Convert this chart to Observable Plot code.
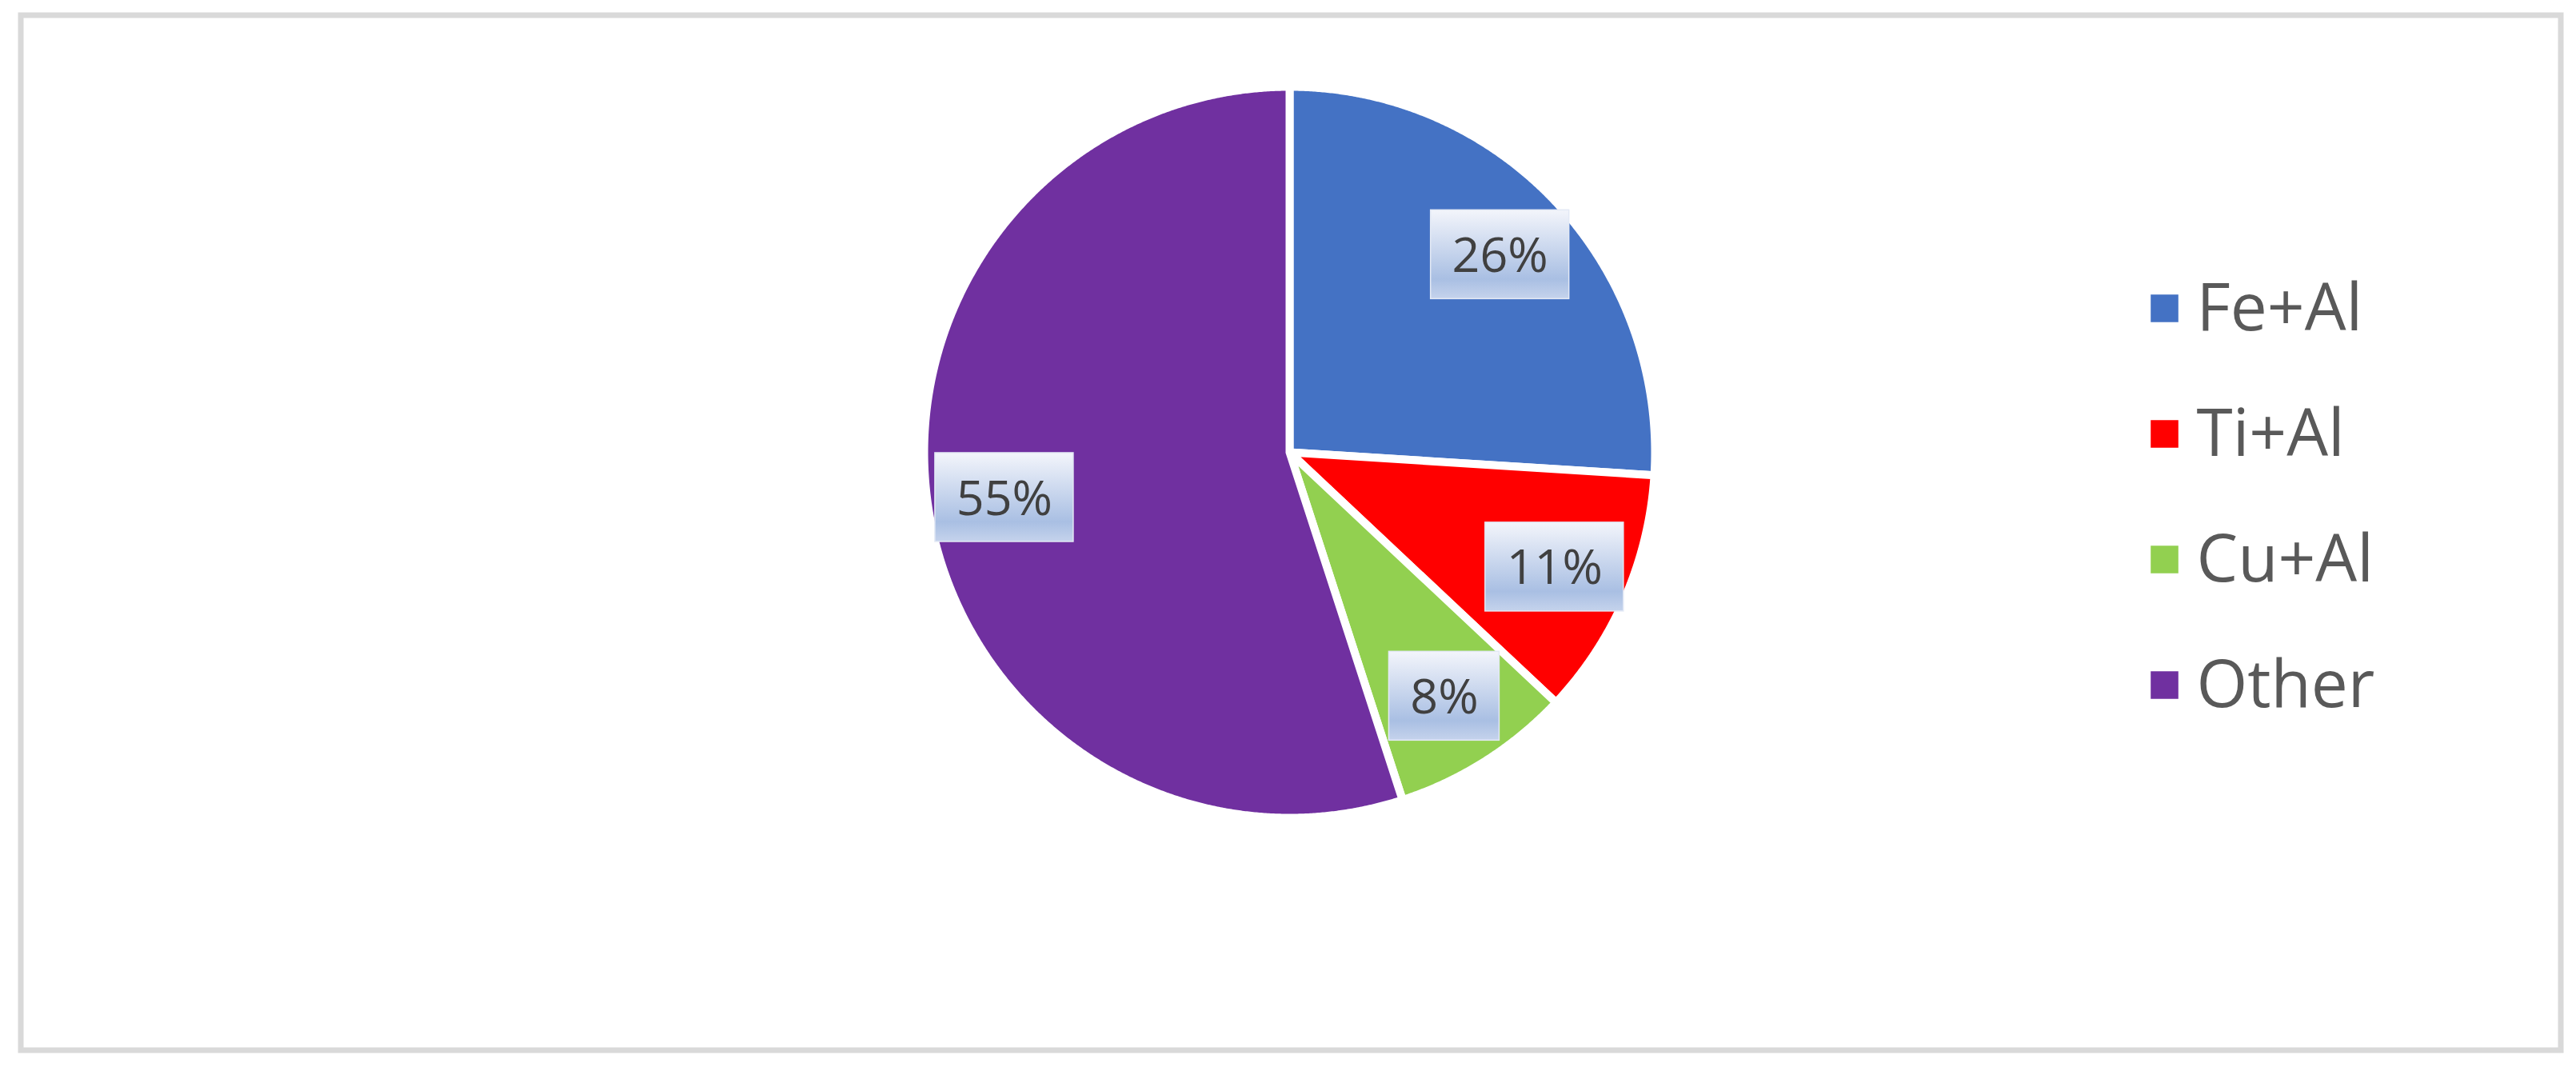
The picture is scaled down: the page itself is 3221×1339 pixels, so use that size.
<!DOCTYPE html>
<html><head><meta charset="utf-8">
<script src="https://cdn.jsdelivr.net/npm/d3@7"></script>
<script src="https://cdn.jsdelivr.net/npm/@observablehq/plot@0.6"></script>
<style>
body{margin:0;background:#fff}
#wrap{position:relative;width:3221px;height:1339px}
#wrap svg{position:absolute;left:0;top:0}
</style>
</head><body><div id="wrap"></div>
<script>
// ---- data ----
const names = ["Fe+Al", "Ti+Al", "Cu+Al", "Other"];
const values = [26, 11, 8, 55];
const labels = ["26%", "11%", "8%", "55%"];

// ---- style / layout ----
const colors = ["#4472c4", "#ff0000", "#92d050", "#7030a0"];
const W = 3221, H = 1339;
const frame = {left: 25.5, right: 3201.5, top: 18.5, bottom: 1312.5};
const cx = 1612, cy = 565, R = 457, labelR = 0.79 * R;

const arcs = d3.pie().sort(null).value(d => d)(values);
const slices = [];
arcs.forEach((a, i) => {
  slices.push({name: names[i], x: 0, y: 0});
  const n = Math.max(2, Math.ceil((a.endAngle - a.startAngle) / (Math.PI / 720)));
  for (let k = 0; k <= n; ++k) {
    const t = a.startAngle + (a.endAngle - a.startAngle) * k / n;
    slices.push({name: names[i], x: R * Math.sin(t), y: R * Math.cos(t)});
  }
});
const lbl = arcs.map((a, i) => {
  const m = (a.startAngle + a.endAngle) / 2;
  const x = labelR * Math.sin(m), y = labelR * Math.cos(m);
  const w = 52 + (labels[i].length - 1) * 35 + 51;
  return {text: labels[i], x, y, x1: x - w / 2, x2: x + w / 2, y1: y - 55.5, y2: y + 55.5};
});

const pie = Plot.plot({
  width: W, height: H,
  marginLeft: frame.left, marginRight: W - frame.right,
  marginTop: frame.top, marginBottom: H - frame.bottom,
  x: {domain: [-(cx - frame.left), frame.right - cx], axis: null},
  y: {domain: [-(frame.bottom - cy), cy - frame.top], axis: null},
  color: {domain: names, range: colors},
  style: {background: "white"},
  marks: [
    Plot.frame({stroke: "#d9d9d9", strokeWidth: 7}),
    Plot.line(slices, {x: "x", y: "y", z: "name", fill: "name", stroke: "white",
      strokeWidth: 10, strokeLinejoin: "miter", strokeMiterlimit: 10, curve: "linear-closed"}),
    Plot.rect(lbl, {x1: "x1", x2: "x2", y1: "y1", y2: "y2", fill: "url(#lblgrad)",
      stroke: "#e3e9f5", strokeWidth: 1.5}),
    Plot.text(lbl, {x: "x", y: "y", text: "text", fontSize: 61, fill: "#404040",
      fontFamily: "Open Sans", dy: 2})
  ]
});
pie.insertAdjacentHTML("afterbegin",
  `<defs><linearGradient id="lblgrad" x1="0" y1="0" x2="0" y2="1">
     <stop offset="0" stop-color="#f3f5fb"/>
     <stop offset="0.78" stop-color="#a9bfe3"/>
     <stop offset="1" stop-color="#c5d3ec"/>
   </linearGradient></defs>`);

const legend = Plot.plot({
  width: W, height: H,
  x: {domain: [0, 1], range: [2706, 2746], axis: null},
  y: {type: "point", domain: names, range: [385, 856], padding: 0, axis: null},
  color: {domain: names, range: colors},
  style: {background: "transparent", overflow: "visible"},
  marks: [
    Plot.dot(names, {x: () => 0, y: d => d, fill: d => d, symbol: "square", r: 19.5}),
    Plot.text(names, {x: () => 1, y: d => d, text: d => d, textAnchor: "start",
      fontSize: 82, fill: "#595959", fontFamily: "Open Sans", dy: 1})
  ]
});

const wrap = document.getElementById("wrap");
wrap.appendChild(pie);
wrap.appendChild(legend);
</script>
</body></html>
